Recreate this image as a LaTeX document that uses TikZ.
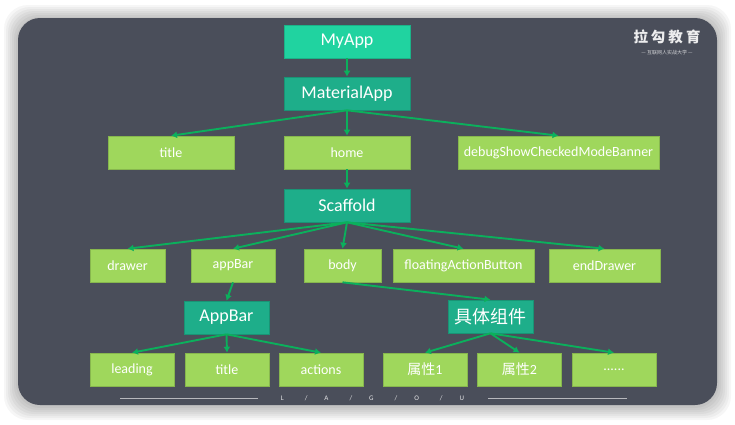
\documentclass[tikz,border=0pt]{standalone}
\usepackage{fontspec}
\setmainfont{Carlito}
\newfontfamily\cjk{Noto Sans CJK SC}
\usetikzlibrary{arrows.meta}
\definecolor{panelgray}{HTML}{4A4E5A}
\definecolor{topgreen}{HTML}{20D3A0}
\definecolor{midgreen}{HTML}{1EAE8A}
\definecolor{leafgreen}{HTML}{9FD75C}
\definecolor{arrowgreen}{HTML}{0BB05C}
\tikzset{
    box/.style={draw=#1!85!black,fill=#1,text=white,inner sep=0pt,line width=0.6pt,minimum height=33pt},
    topbox/.style={box=topgreen,minimum width=126pt,font=\fontsize{18}{20}\selectfont},
    midbox/.style={box=midgreen,minimum width=126pt,font=\fontsize{18}{20}\selectfont},
    leafbox/.style={box=leafgreen,font=\fontsize{14}{16}\selectfont},
    link/.style={draw=arrowgreen,line width=1.9pt,-{Latex[length=6pt,width=7pt]}},
    footline/.style={draw=white!60!panelgray,line width=0.6pt}
}
\begin{document}
\begin{tikzpicture}[x=1pt,y=-1pt]
    \useasboundingbox (0,0) rectangle (735,424);
    \fill [white] (0,0) rectangle (735,424);
    % soft shadow
    \foreach \s in {14,12,...,2}
        \fill [black,opacity=0.035,rounded corners=24pt] (18-\s,18-\s+1) rectangle (717+\s,405+\s+1);
    \fill [panelgray,rounded corners=22pt] (18,18) rectangle (717,405); % panel

    % logo
    \node (logo) [white!90!panelgray,font=\cjk\fontsize{14.5}{16}\selectfont\bfseries] at (667,37) {拉\hspace{3pt}勾\hspace{3pt}教\hspace{3pt}育};
    \node (slogan) [white!75!panelgray,font=\cjk\fontsize{5}{6}\selectfont] at (667,53) {— 互联网人实战大学 —};

    % boxes
    \node (myapp) [topbox] at (347,41.5) {MyApp};
    \node (material) [midbox] at (347,93.5) {MaterialApp};
    \node (apptitle) [leafbox,minimum width=126pt] at (171,152.5) {title};
    \node (home) [leafbox,minimum width=126pt] at (347,152.5) {home};
    \node (debug) [leafbox,minimum width=201pt] at (558.5,152.5) {debugShowCheckedModeBanner};
    \node (scaffold) [midbox] at (347,205.5) {Scaffold};
    \node (drawer) [leafbox,minimum width=75pt] at (127.5,265.5) {drawer};
    \node (appbarprop) [leafbox,minimum width=84pt] at (233,265.5) {appBar};
    \node (body) [leafbox,minimum width=77pt] at (342.5,265.5) {body};
    \node (fab) [leafbox,minimum width=141pt] at (463.5,265.5) {floatingActionButton};
    \node (enddrawer) [leafbox,minimum width=111pt] at (604.5,265.5) {endDrawer};
    \node (appbar) [midbox,minimum width=85pt] at (226.5,317.5) {AppBar};
    \node (widget) [midbox,minimum width=85pt] at (490.5,316.5) {\cjk 具体组件};
    \node (leading) [leafbox,minimum width=84pt] at (132,369.5) {leading};
    \node (bartitle) [leafbox,minimum width=84pt] at (227,369.5) {title};
    \node (actions) [leafbox,minimum width=84pt] at (321,369.5) {actions};
    \node (attrone) [leafbox,minimum width=84pt] at (425,369.5) {{\cjk 属性}1};
    \node (attrtwo) [leafbox,minimum width=84pt] at (519.5,369.5) {{\cjk 属性}2};
    \node (more) [leafbox,minimum width=84pt] at (614,369.5) {......};

    % arrows
    \draw [link] (myapp.south) -- (material.north);
    \foreach \to in {apptitle,home,debug}
        \draw [link] (material.south) -- (\to.north);
    \draw [link] (home.south) -- (scaffold.north);
    \foreach \to in {drawer,appbarprop,body,fab,enddrawer}
        \draw [link] (scaffold.south) -- (\to.north);
    \draw [link] (appbarprop.south) -- (appbar.north);
    \draw [link] (body.south) -- (widget.north);
    \foreach \to in {leading,bartitle,actions}
        \draw [link] (appbar.south) -- (\to.north);
    \foreach \to in {attrone,attrtwo,more}
        \draw [link] (widget.south) -- (\to.north);

    % footer
    \draw [footline] (120,398)--(258,398);
    \draw [footline] (488,398)--(627,398);
    \node (footer) [white!85!panelgray,font=\fontsize{7}{8}\selectfont] at (372.5,398) {L\hspace{21pt}/\hspace{17pt}A\hspace{21pt}/\hspace{17pt}G\hspace{21pt}/\hspace{17pt}O\hspace{21pt}/\hspace{17pt}U};
\end{tikzpicture}
\end{document}
